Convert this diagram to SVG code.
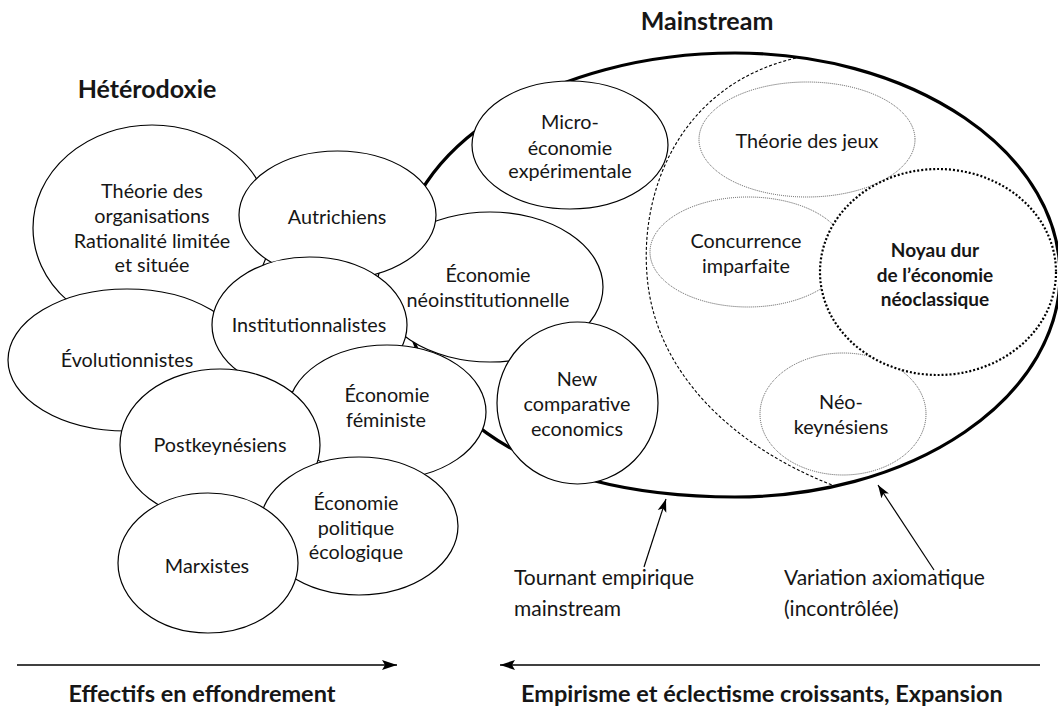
<svg xmlns="http://www.w3.org/2000/svg" width="1058" height="710" viewBox="0 0 1058 710">
<style>
.n{fill:#fff;stroke:#000;stroke-width:1.2}
.d{fill:#fff;stroke:#555;stroke-width:1;stroke-dasharray:1 1}
.k{fill:#fff;stroke:#000;stroke-width:2.2;stroke-dasharray:2 2}
.t{font-family:Lato,"Liberation Sans",sans-serif;font-size:19.8px;text-anchor:middle;fill:#161616}
.s{text-anchor:start}
.b{font-weight:700}
.nb{font-size:19px}
.h{font-size:25px}
.f{font-size:23.5px}
.an{font-size:21px}
.c{fill:none;stroke:#000}
</style>
<defs>
<marker id="a" markerUnits="userSpaceOnUse" markerWidth="14" markerHeight="10" refX="13" refY="5" orient="auto">
<path d="M0,0.5 L13,5 L0,9.5 L3,5 Z" fill="#000"/>
</marker>
<marker id="a2" markerUnits="userSpaceOnUse" markerWidth="16" markerHeight="11" refX="15" refY="5.5" orient="auto">
<path d="M0,0.5 L15,5.5 L0,10.5 L3,5.5 Z" fill="#000"/>
</marker>
</defs>

<g id="mainstream">
<path d="M735,53 A325,222 0 0,1 735,497 C520,497 400,404 400,265 C400,148 551,53 735,53 Z" fill="#fff" stroke="#000" stroke-width="3.2"/>
<path d="M796,58 C680,85 640,190 647,275 C654,370 730,445 832,485" fill="none" stroke="#000" stroke-width="1.1" stroke-dasharray="3 2"/>
<text class="t b h" x="707" y="30">Mainstream</text>
</g>

<g id="theorie-jeux"><ellipse class="d" cx="807" cy="139.5" rx="108" ry="57.5"/><text class="t" x="807" y="148">Théorie des jeux</text></g>
<g id="concurrence"><ellipse class="d" cx="748" cy="252" rx="98" ry="55"/><text class="t" x="746" y="248">Concurrence</text><text class="t" x="746" y="273">imparfaite</text></g>
<g id="neokeynesiens"><ellipse class="d" cx="843" cy="414" rx="83" ry="61"/><text class="t" x="841" y="409">Néo-</text><text class="t" x="841" y="434">keynésiens</text></g>
<g id="noyau"><ellipse class="k" cx="938" cy="272" rx="118" ry="103"/><text class="t b nb" x="935" y="257">Noyau dur</text><text class="t b nb" x="935" y="282">de l’économie</text><text class="t b nb" x="935" y="306">néoclassique</text></g>

<g id="neoinstitutionnelle"><ellipse class="n" cx="490" cy="287" rx="113" ry="75"/><text class="t" x="488" y="282">Économie</text><text class="t" x="488" y="307">néoinstitutionnelle</text></g>
<g id="new-comparative"><ellipse class="n" cx="577.5" cy="403" rx="80.5" ry="81"/><text class="t" x="577" y="386">New</text><text class="t" x="577" y="411">comparative</text><text class="t" x="577" y="436">economics</text></g>
<g id="micro"><ellipse class="n" cx="570" cy="145" rx="98" ry="64"/><text class="t" x="570" y="129">Micro-</text><text class="t" x="570" y="155">économie</text><text class="t" x="570" y="178">expérimentale</text></g>

<text class="t b h" x="147" y="98">Hétérodoxie</text>
<g id="organisations"><ellipse class="n" cx="152" cy="228" rx="119" ry="103"/><text class="t" x="152" y="198">Théorie des</text><text class="t" x="152" y="223">organisations</text><text class="t" x="152" y="248">Rationalité limitée</text><text class="t" x="152" y="272">et située</text></g>
<g id="autrichiens"><ellipse class="n" cx="337.5" cy="215" rx="98.5" ry="64"/><text class="t" x="337" y="224">Autrichiens</text></g>
<g id="evolutionnistes"><ellipse class="n" cx="127" cy="360" rx="119" ry="71"/><text class="t" x="127" y="367">Évolutionnistes</text></g>
<g id="institutionnalistes"><ellipse class="n" cx="309.5" cy="325" rx="97.5" ry="68"/><text class="t" x="309" y="332">Institutionnalistes</text></g>
<g id="feministe"><ellipse class="n" cx="387" cy="412" rx="99" ry="67"/><text class="t" x="387" y="402">Économie</text><text class="t" x="386" y="427">féministe</text></g>
<g id="postkeynesiens"><ellipse class="n" cx="220" cy="445" rx="100" ry="76"/><text class="t" x="220" y="452">Postkeynésiens</text></g>
<g id="ecologique"><ellipse class="n" cx="359" cy="526" rx="99" ry="69"/><text class="t" x="356" y="510">Économie</text><text class="t" x="356" y="535">politique</text><text class="t" x="356" y="559">écologique</text></g>
<g id="marxistes"><ellipse class="n" cx="208" cy="563" rx="90" ry="70"/><text class="t" x="207" y="573">Marxistes</text></g>

<g id="connectors">
<line class="c" x1="644" y1="567" x2="666" y2="499" stroke-width="1.2" marker-end="url(#a)"/>
<line class="c" x1="934" y1="570" x2="878" y2="485" stroke-width="1.2" marker-end="url(#a)"/>
<line class="c" x1="17" y1="665" x2="397" y2="665" stroke-width="1.3" marker-end="url(#a2)"/>
<line class="c" x1="1040" y1="665" x2="500" y2="665" stroke-width="1.3" marker-end="url(#a2)"/>
</g>

<g id="labels">
<text class="t s an" x="514" y="585">Tournant empirique</text>
<text class="t s an" x="514" y="616">mainstream</text>
<text class="t s an" x="784" y="585">Variation axiomatique</text>
<text class="t s an" x="784" y="616">(incontrôlée)</text>
<text class="t b f" x="202" y="702">Effectifs en effondrement</text>
<text class="t b f s" x="521" y="702">Empirisme et éclectisme croissants, Expansion</text>
</g>
</svg>
